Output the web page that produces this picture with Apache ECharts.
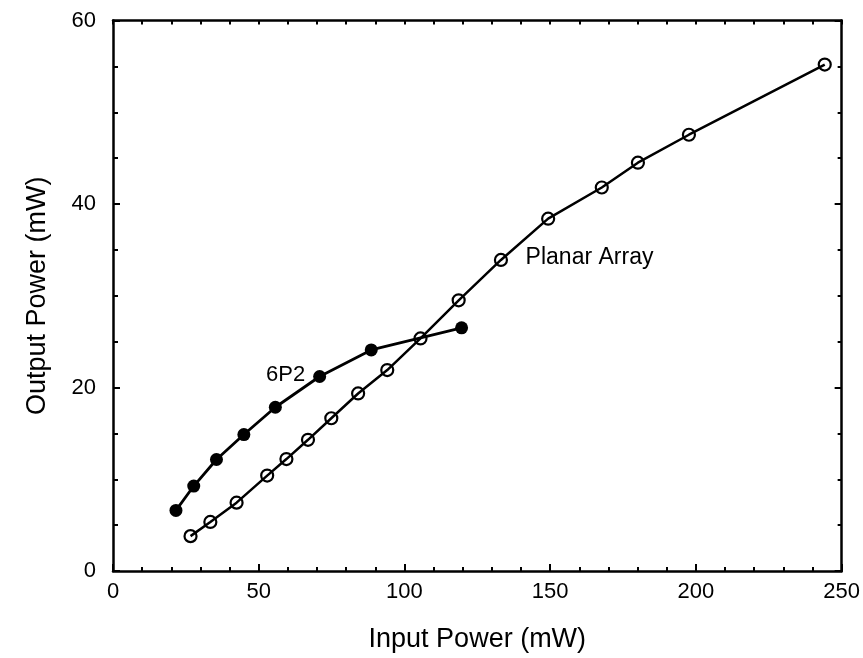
<!DOCTYPE html>
<html>
<head>
<meta charset="utf-8">
<script src="https://cdn.jsdelivr.net/npm/echarts@6/dist/echarts.min.js"></script>
<style>
html,body{margin:0;padding:0;background:#fff;}
#chart{width:863px;height:658px;}
</style>
</head>
<body>
<div id="chart"></div>
<script>
// Planar Array (open circles)
var planarX = [26.6, 33.4, 42.4, 52.9, 59.5, 66.9, 74.9, 84.1, 94.1, 105.5, 118.6, 133.1, 149.3, 167.7, 180.1, 197.6, 244.2];
var planarY = [3.8, 5.35, 7.45, 10.4, 12.2, 14.3, 16.65, 19.35, 21.9, 25.35, 29.5, 33.9, 38.4, 41.8, 44.5, 47.55, 55.2];
// 6P2 (filled circles)
var p6X = [21.6, 27.7, 35.5, 44.9, 55.7, 70.9, 88.6, 119.6];
var p6Y = [6.6, 9.26, 12.15, 14.87, 17.85, 21.2, 24.1, 26.5];

var xTicks = [0, 50, 100, 150, 200, 250];
var yTicks = [0, 20, 40, 60];
var xLabel = 'Input Power (mW)';
var yLabel = 'Output Power (mW)';
var planarName = 'Planar Array';
var p6Name = '6P2';

function pairs(xs, ys) { return xs.map(function (x, i) { return [x, ys[i]]; }); }

var FONT = 'Liberation Sans';
var black = '#000';

var chart = echarts.init(document.getElementById('chart'), null, {renderer: 'canvas'});
var axisLineStyle = {color: black, width: 2.5};
var tickStyle = {color: black, width: 2};

chart.setOption({
  backgroundColor: '#fff',
  animation: false,
  grid: {left: 113, right: 20, top: 20.5, bottom: 85.5, containLabel: false},
  xAxis: [
    {
      type: 'value', position: 'bottom',
      min: xTicks[0], max: xTicks[xTicks.length - 1], interval: xTicks[1] - xTicks[0],
      axisLine: {show: true, onZero: false, lineStyle: axisLineStyle},
      axisTick: {show: true, inside: true, length: 7, lineStyle: tickStyle},
      minorTick: {show: true, splitNumber: 5, length: 4, lineStyle: tickStyle},
      splitLine: {show: false},
      axisLabel: {fontSize: 22, color: black, fontFamily: FONT, margin: 10},
      name: xLabel, nameLocation: 'middle', nameGap: 55,
      nameTextStyle: {fontSize: 27, color: black, fontFamily: FONT}
    },
    {
      type: 'value', position: 'top',
      min: xTicks[0], max: xTicks[xTicks.length - 1], interval: 10,
      axisLine: {show: true, onZero: false, lineStyle: axisLineStyle},
      axisTick: {show: true, inside: true, length: 4, lineStyle: tickStyle},
      splitLine: {show: false},
      axisLabel: {show: false}
    }
  ],
  yAxis: [
    {
      type: 'value', position: 'left',
      min: yTicks[0], max: yTicks[yTicks.length - 1], interval: yTicks[1] - yTicks[0],
      axisLine: {show: true, onZero: false, lineStyle: axisLineStyle},
      axisTick: {show: true, inside: true, length: 7, lineStyle: tickStyle},
      minorTick: {show: true, splitNumber: 4, length: 5, lineStyle: tickStyle},
      splitLine: {show: false},
      axisLabel: {fontSize: 22, color: black, fontFamily: FONT, margin: 17},
      name: yLabel, nameLocation: 'middle', nameGap: 62, nameRotate: 90,
      nameTextStyle: {fontSize: 27, color: black, fontFamily: FONT}
    },
    {
      type: 'value', position: 'right',
      min: yTicks[0], max: yTicks[yTicks.length - 1], interval: yTicks[1] - yTicks[0],
      axisLine: {show: true, onZero: false, lineStyle: axisLineStyle},
      axisTick: {show: true, inside: true, length: 7, lineStyle: tickStyle},
      minorTick: {show: true, splitNumber: 4, length: 4, lineStyle: tickStyle},
      splitLine: {show: false},
      axisLabel: {show: false}
    }
  ],
  series: [
    {
      name: planarName, type: 'line', xAxisIndex: 0, yAxisIndex: 0,
      data: pairs(planarX, planarY),
      symbol: 'circle', symbolSize: 12,
      lineStyle: {color: black, width: 2.5},
      itemStyle: {color: 'rgba(0,0,0,0)', borderColor: black, borderWidth: 2.2},
      z: 3,
      markPoint: {
        symbol: 'circle', symbolSize: 1,
        itemStyle: {color: 'rgba(0,0,0,0)'},
        data: [{coord: [141.4, 34.2], value: planarName}],
        label: {show: true, position: 'right', distance: 0, formatter: planarName,
                fontSize: 23, color: black, fontFamily: FONT}
      }
    },
    {
      name: p6Name, type: 'line', xAxisIndex: 0, yAxisIndex: 0,
      data: pairs(p6X, p6Y),
      symbol: 'circle', symbolSize: 13,
      lineStyle: {color: black, width: 2.8},
      itemStyle: {color: black, borderColor: black, borderWidth: 0},
      z: 4,
      markPoint: {
        symbol: 'circle', symbolSize: 1,
        itemStyle: {color: 'rgba(0,0,0,0)'},
        data: [{coord: [59.2, 21.4], value: p6Name}],
        label: {show: true, position: 'inside', formatter: p6Name,
                fontSize: 22, color: black, fontFamily: FONT}
      }
    }
  ]
});
</script>
</body>
</html>
